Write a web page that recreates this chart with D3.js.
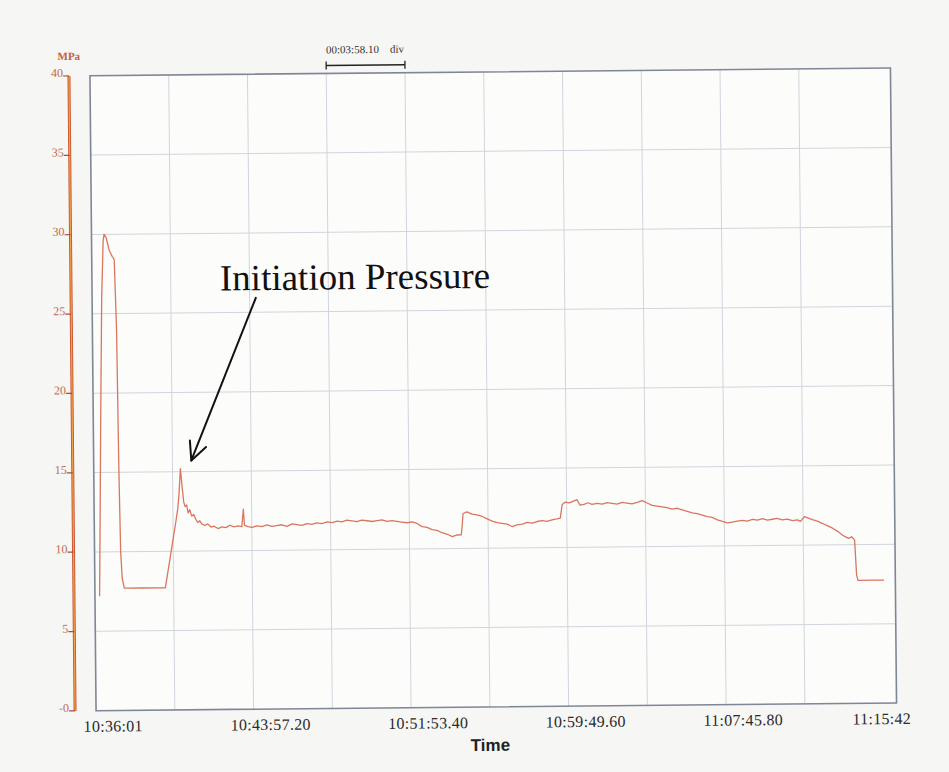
<!DOCTYPE html>
<html>
<head>
<meta charset="utf-8">
<title>Pressure vs Time</title>
<script src="https://cdn.jsdelivr.net/npm/d3@7/dist/d3.min.js"></script>
<style>
  body { margin: 0; background: #f6f6f4; }
</style>
</head>
<body>
<div id="chart"></div>
<script>
// elapsed seconds since 10:36:01
var timeSec = [14, 17, 23, 29, 35, 38, 44, 53, 62, 68, 73, 76, 79, 83, 89, 144, 213,
  222, 235, 247, 253, 257, 262, 266, 271, 275, 280, 284, 289, 295, 301, 307, 313, 319, 325,
  334, 343, 353, 362, 374, 386, 398, 410, 422, 434, 446, 451, 454, 464, 477,
  492, 507, 522, 537, 552, 567, 583, 598, 613, 628, 643, 658, 673, 688, 704, 719, 734, 749,
  764, 779, 794, 809, 825, 840, 855, 870, 885, 900, 915, 930, 946, 961, 976, 991, 1006,
  1021, 1036, 1051, 1067, 1082, 1097, 1109, 1112, 1115, 1127, 1142, 1157, 1173, 1188, 1203,
  1218, 1233, 1248, 1263, 1278, 1294, 1309, 1324, 1339, 1354, 1369, 1384, 1399, 1409, 1415,
  1424, 1436, 1448, 1460, 1469, 1481, 1493, 1505, 1521, 1536, 1551, 1566, 1581, 1596, 1611,
  1626, 1642, 1657, 1672, 1687, 1702, 1717, 1732, 1747, 1763, 1778, 1793, 1808, 1823, 1838,
  1853, 1868, 1884, 1899, 1914, 1929, 1944, 1959, 1974, 1990, 2005, 2020, 2035, 2050, 2065,
  2080, 2095, 2111, 2126, 2135, 2147, 2159, 2171, 2186, 2202, 2217, 2232, 2247, 2262, 2271,
  2280, 2289, 2298, 2303, 2307, 2353, 2386];

var pressure = [7.2, 11, 19, 26, 29.6, 30.0, 29.8, 29.0, 28.6, 28.4, 24, 15, 10, 8.3, 7.7, 7.7, 7.7,
  8.8, 10.4, 11.9, 12.7, 13.6, 15.2, 14.2, 13.1, 12.8, 12.9, 12.4, 12.6, 12.2, 12.3, 12.0, 11.8, 11.9, 11.7,
  11.6, 11.7, 11.5, 11.55, 11.4, 11.5, 11.45, 11.6, 11.5, 11.55, 11.5, 12.6, 11.6, 11.5, 11.45,
  11.55, 11.5, 11.6, 11.5, 11.55, 11.6, 11.5, 11.65, 11.6, 11.55, 11.65, 11.6, 11.7, 11.65, 11.75, 11.7, 11.8, 11.75,
  11.85, 11.8, 11.75, 11.85, 11.8, 11.75, 11.8, 11.85, 11.75, 11.8, 11.75, 11.7, 11.65, 11.7, 11.6, 11.4, 11.35,
  11.2, 11.15, 11.0, 10.9, 10.75, 10.85, 10.85, 11.4, 12.2, 12.3, 12.15, 12.1, 12.0, 11.85, 11.7,
  11.6, 11.55, 11.5, 11.35, 11.45, 11.5, 11.6, 11.55, 11.65, 11.7, 11.65, 11.75, 11.8, 11.85, 12.7,
  12.85, 12.8, 12.9, 13.0, 12.65, 12.7, 12.8, 12.7, 12.75, 12.7, 12.8, 12.75, 12.7, 12.8, 12.75,
  12.7, 12.8, 12.9, 12.75, 12.6, 12.55, 12.5, 12.45, 12.35, 12.4, 12.3, 12.2, 12.1, 12.05, 11.95,
  11.85, 11.8, 11.65, 11.55, 11.45, 11.5, 11.55, 11.6, 11.55, 11.65, 11.6, 11.7, 11.6, 11.65, 11.7,
  11.6, 11.65, 11.55, 11.6, 11.5, 11.8, 11.7, 11.6, 11.5, 11.35, 11.2, 11.05, 10.85, 10.6, 10.5,
  10.4, 10.5, 10.3, 8.1, 7.75, 7.75, 7.75];

var yTicks = [0, 5, 10, 15, 20, 25, 30, 35, 40];
var yTickLabels = ["-0", "5", "10", "15", "20", "25", "30", "35", "40"];
var xTickSec = [0, 476.2, 952.4, 1428.6, 1904.8, 2381];
var xTickLabels = ["10:36:01", "10:43:57.20", "10:51:53.40", "10:59:49.60", "11:07:45.80", "11:15:42"];
var divSec = 238.1; // one grid division = 00:03:58.10
var peakIndex = 22;  // initiation pressure point

var data = timeSec.map(function(t, i) { return {t: t, p: pressure[i]}; });

var width = 949, height = 772;
var x = d3.scaleLinear().domain([0, 2420]).range([93, 893.5]);
var y = d3.scaleLinear().domain([0, 40]).range([707, 72]);

var svg = d3.select("#chart").append("svg")
    .attr("width", width)
    .attr("height", height)
    .style("display", "block");

svg.append("rect")
    .attr("width", width)
    .attr("height", height)
    .attr("fill", "#f6f6f4");

// the scan is a little tilted
var g = svg.append("g")
    .attr("transform", "rotate(-0.55, 480, 390)");

var x0 = x.range()[0], x1 = x.range()[1];
var yTop = y(40), yBot = y(0);

g.append("rect")
    .attr("x", x0).attr("y", yTop)
    .attr("width", x1 - x0).attr("height", yBot - yTop)
    .attr("fill", "#fcfcfb");

// grid
var vDivs = d3.range(1, 10).map(function(i) { return i * divSec; });
g.selectAll(".vgrid").data(vDivs).enter().append("line")
    .attr("class", "vgrid")
    .attr("x1", function(d) { return x(d); })
    .attr("x2", function(d) { return x(d); })
    .attr("y1", yTop).attr("y2", yBot)
    .attr("stroke", "#d0d5dc").attr("stroke-width", 1);

g.selectAll(".hgrid").data(yTicks.slice(1, -1)).enter().append("line")
    .attr("class", "hgrid")
    .attr("x1", x0).attr("x2", x1)
    .attr("y1", function(d) { return y(d); })
    .attr("y2", function(d) { return y(d); })
    .attr("stroke", "#d0d5dc").attr("stroke-width", 1);

g.append("rect")
    .attr("x", x0).attr("y", yTop)
    .attr("width", x1 - x0).attr("height", yBot - yTop)
    .attr("fill", "none")
    .attr("stroke", "#7f8696").attr("stroke-width", 1.6);

// pressure trace
var line = d3.line()
    .x(function(d) { return x(d.t); })
    .y(function(d) { return y(d.p); });

g.append("path")
    .datum(data)
    .attr("fill", "none")
    .attr("stroke", "#d9765f")
    .attr("stroke-width", 1.3)
    .attr("stroke-linejoin", "round")
    .attr("d", line);

// left axis (orange)
var axisX = 72;
g.append("line")
    .attr("x1", axisX).attr("x2", axisX)
    .attr("y1", yTop).attr("y2", yBot)
    .attr("stroke", "#c8552e").attr("stroke-width", 3);
g.append("line")
    .attr("x1", axisX).attr("x2", axisX)
    .attr("y1", yTop).attr("y2", yBot)
    .attr("stroke", "#f0a24a").attr("stroke-width", 1.2);

g.selectAll(".ytick").data(yTicks).enter().append("line")
    .attr("class", "ytick")
    .attr("x1", axisX - 6).attr("x2", axisX)
    .attr("y1", function(d) { return y(d); })
    .attr("y2", function(d) { return y(d); })
    .attr("stroke", "#b24a2c").attr("stroke-width", 1.2);

g.selectAll(".ylab").data(yTicks).enter().append("text")
    .attr("class", "ylab")
    .attr("x", axisX - 6)
    .attr("y", function(d) { return y(d) + 1; })
    .attr("text-anchor", "end")
    .style("font-family", "'Liberation Serif', serif")
    .style("font-size", "12px")
    .style("fill", "#bf6a50")
    .text(function(d, i) { return yTickLabels[i]; });

g.append("text")
    .attr("x", axisX)
    .attr("y", yTop - 16)
    .attr("text-anchor", "middle")
    .style("font-family", "'Liberation Serif', serif")
    .style("font-size", "11px")
    .style("font-weight", "bold")
    .style("fill", "#c0603a")
    .text("MPa");

// x labels
g.selectAll(".xlab").data(xTickSec).enter().append("text")
    .attr("class", "xlab")
    .attr("x", function(d, i) { return x(d) + (i < xTickSec.length - 1 ? 17 : -2); })
    .attr("y", yBot + 21)
    .attr("text-anchor", "middle")
    .style("font-family", "'Liberation Serif', serif")
    .style("font-size", "16px")
    .style("letter-spacing", "0.3px")
    .style("fill", "#2a2a2a")
    .text(function(d, i) { return xTickLabels[i]; });

g.append("text")
    .attr("x", 487)
    .attr("y", yBot + 44)
    .attr("text-anchor", "middle")
    .style("font-family", "'Liberation Sans', Arial, sans-serif")
    .style("font-size", "17px")
    .style("font-weight", "bold")
    .style("fill", "#222")
    .text("Time");

// division scale bar at the top
var barL = x(3 * divSec), barR = x(4 * divSec), barY = yTop - 8;
g.append("line")
    .attr("x1", barL).attr("x2", barR)
    .attr("y1", barY).attr("y2", barY)
    .attr("stroke", "#222").attr("stroke-width", 1.5);
[barL, barR].forEach(function(bx) {
    g.append("line")
        .attr("x1", bx).attr("x2", bx)
        .attr("y1", barY - 4).attr("y2", barY + 4)
        .attr("stroke", "#222").attr("stroke-width", 1.3);
});
g.append("text")
    .attr("x", barL)
    .attr("y", barY - 12)
    .style("font-family", "'Liberation Serif', serif")
    .style("font-size", "11px")
    .style("fill", "#333")
    .style("white-space", "pre")
    .text("00:03:58.10    div");

// annotation
var peak = data[peakIndex];
var tipX = x(peak.t) + 11, tipY = y(peak.p) - 8;
var tailX = 257, tailY = 295;
g.append("text")
    .attr("x", 221)
    .attr("y", 288)
    .style("font-family", "'Liberation Serif', 'Times New Roman', serif")
    .style("font-size", "37px")
    .style("fill", "#111")
    .text("Initiation Pressure");

g.append("line")
    .attr("x1", tailX).attr("y1", tailY)
    .attr("x2", tipX).attr("y2", tipY)
    .attr("stroke", "#111").attr("stroke-width", 2);

var ang = Math.atan2(tipY - tailY, tipX - tailX);
[-0.45, 0.45].forEach(function(a) {
    g.append("line")
        .attr("x1", tipX).attr("y1", tipY)
        .attr("x2", tipX - 20 * Math.cos(ang + a))
        .attr("y2", tipY - 20 * Math.sin(ang + a))
        .attr("stroke", "#111").attr("stroke-width", 2)
        .attr("stroke-linecap", "round");
});
</script>
</body>
</html>
